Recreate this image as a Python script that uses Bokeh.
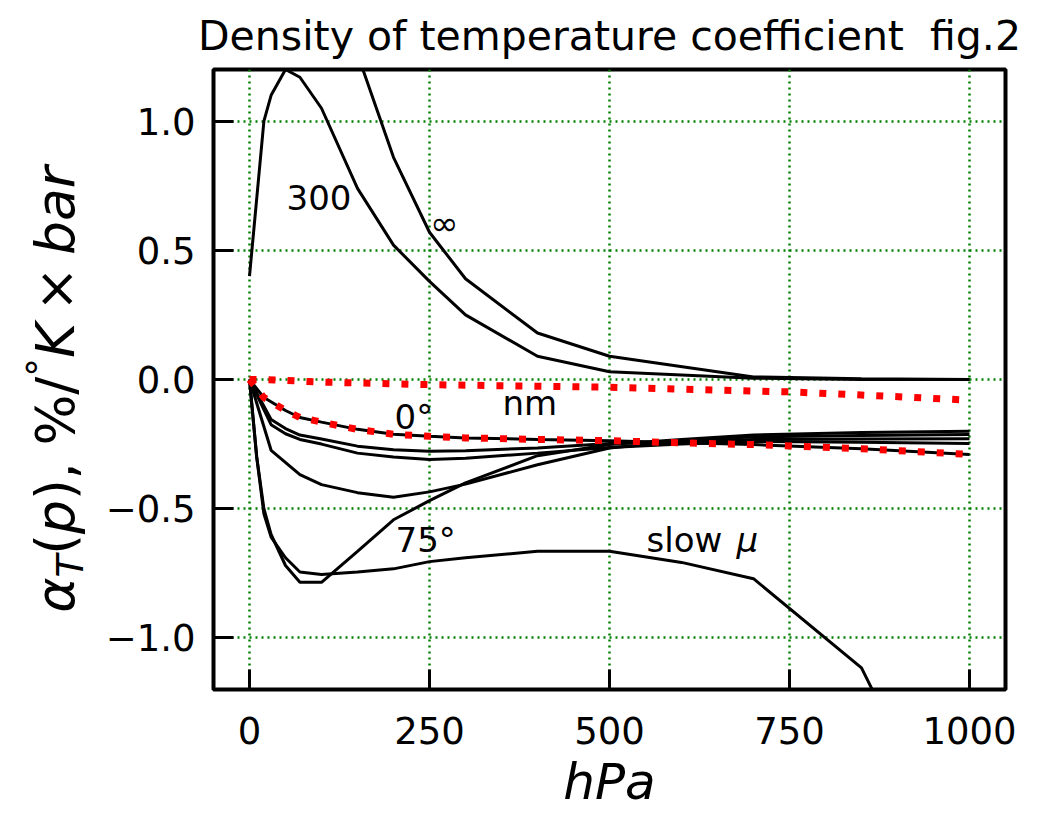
import math
from bokeh.plotting import figure
from bokeh.layouts import row
from bokeh.models import Range1d, Label, FixedTicker
from bokeh.embed import file_html
from bokeh.resources import INLINE

# ---------------- data ----------------
x_300 = [0, 20, 30, 50, 70, 100, 150, 200, 250, 300, 400, 500, 700, 850, 1000]
y_300 = [0.40, 1.00, 1.10, 1.20, 1.17, 1.05, 0.74, 0.52, 0.38, 0.25, 0.09, 0.03, 0.005, 0.0, 0.0]

x_inf = [100, 150, 200, 250, 300, 400, 500, 700, 850, 1000]
y_inf = [1.70, 1.26, 0.86, 0.57, 0.39, 0.18, 0.09, 0.01, 0.003, 0.0]

x_nm = [0, 20, 100, 250, 500, 750, 850, 1000]
y_nm = [0.0, 0.0, -0.01, -0.02, -0.03, -0.048, -0.06, -0.08]

x_0 = [0, 20, 50, 70, 100, 150, 200, 250, 300, 400, 500, 600, 700, 850, 1000]
y_0 = [0.0, -0.07, -0.12, -0.147, -0.165, -0.193, -0.212, -0.22, -0.226, -0.232, -0.237, -0.245, -0.252, -0.268, -0.29]

x_a = [0, 30, 50, 70, 100, 150, 200, 250, 300, 400, 500, 600, 700, 850, 1000]
y_a = [0.0, -0.155, -0.19, -0.215, -0.23, -0.258, -0.272, -0.278, -0.276, -0.265, -0.248, -0.24, -0.232, -0.23, -0.229]

x_b = [0, 30, 50, 70, 100, 150, 200, 250, 300, 400, 500, 600, 700, 850, 1000]
y_b = [0.0, -0.175, -0.21, -0.232, -0.25, -0.285, -0.30, -0.31, -0.305, -0.285, -0.263, -0.25, -0.24, -0.243, -0.248]

x_c = [0, 30, 70, 100, 150, 200, 250, 300, 400, 500, 600, 700, 850, 1000]
y_c = [0.0, -0.274, -0.368, -0.407, -0.438, -0.456, -0.435, -0.405, -0.33, -0.265, -0.238, -0.222, -0.217, -0.213]

x_75 = [0, 10, 20, 30, 50, 70, 100, 150, 200, 250, 300, 400, 500, 600, 700, 850, 1000]
y_75 = [0.0, -0.30, -0.50, -0.60, -0.72, -0.785, -0.785, -0.665, -0.543, -0.469, -0.40, -0.295, -0.252, -0.232, -0.215, -0.205, -0.20]

x_mu = [0, 10, 20, 30, 50, 70, 100, 150, 200, 250, 300, 400, 500, 600, 700, 850, 925, 1000]
y_mu = [0.0, -0.30, -0.52, -0.61, -0.69, -0.745, -0.755, -0.745, -0.733, -0.705, -0.69, -0.665, -0.665, -0.708, -0.771, -1.116, -1.54, -1.9]

x_ticks = [0, 250, 500, 750, 1000]
y_ticks = [-1.0, -0.5, 0.0, 0.5, 1.0]
y_tick_labels = {-1: "\u22121.0", -0.5: "\u22120.5", 0: "0.0", 0.5: "0.5", 1: "1.0"}

title_text = "Density of temperature coefficient \u00a0fig.2"
x_label = "hPa"
curve_labels = ["300", "\u221e", "0\u00b0", "nm", "75\u00b0", "slow "]

# ---------------- layout ----------------
FONT = "DejaVu Sans"
TOTAL_W, H = 1030, 813
YW = 95                       # width of the strip holding the y-axis label
FLP, FTP, FW, FH = 213, 68, 792, 622   # frame position on the page
X0, X1, Y0, Y1 = -50, 1050, -1.2, 1.2
BOT = H - FTP - FH


def px_x(px):
    return X0 + (px - FLP) * (X1 - X0) / FW


def px_y(py):
    return Y1 - (py - FTP) * (Y1 - Y0) / FH


MW = TOTAL_W - YW
p = figure(width=MW, height=H, output_backend="svg", toolbar_location=None,
           x_range=Range1d(X0, X1), y_range=Range1d(Y0, Y1),
           min_border_left=FLP - YW, min_border_top=FTP,
           min_border_right=MW - (FLP - YW) - FW, min_border_bottom=BOT,
           title=title_text)
p.background_fill_color = "white"
p.border_fill_color = "white"
p.outline_line_color = "black"
p.outline_line_width = 4

p.title.align = "center"
p.title.text_font = FONT
p.title.text_font_size = "41px"
p.title.text_font_style = "normal"
p.title.text_color = "black"
p.title.standoff = 19

for ax in (p.xaxis, p.yaxis):
    ax.axis_line_color = None
    ax.major_tick_in = 20
    ax.major_tick_out = 0
    ax.major_tick_line_width = 3
    ax.major_tick_line_color = "black"
    ax.minor_tick_line_color = None
    ax.major_label_text_font = FONT
    ax.major_label_text_font_size = "37px"
    ax.major_label_text_color = "black"
    ax.major_label_standoff = 18

p.xaxis.major_label_standoff = 27
p.xaxis.ticker = FixedTicker(ticks=x_ticks)
p.yaxis.ticker = FixedTicker(ticks=y_ticks)
p.yaxis.major_label_overrides = y_tick_labels
p.xaxis.axis_label = x_label
p.xaxis.axis_label_text_font = FONT
p.xaxis.axis_label_text_font_size = "50px"
p.xaxis.axis_label_text_font_style = "italic"
p.xaxis.axis_label_text_color = "black"
p.xaxis.axis_label_standoff = 6

for g in (p.xgrid, p.ygrid):
    g.grid_line_color = "green"
    g.grid_line_dash = "2 4"
    g.grid_line_width = 2.5
p.xgrid.ticker = FixedTicker(ticks=x_ticks)
p.ygrid.ticker = FixedTicker(ticks=y_ticks)

LW = 3
for xs, ys in [(x_300, y_300), (x_inf, y_inf), (x_0, y_0), (x_a, y_a), (x_b, y_b),
               (x_c, y_c), (x_75, y_75), (x_mu, y_mu)]:
    p.line(xs, ys, line_color="black", line_width=LW)

p.line(x_nm, y_nm, line_color="red", line_width=7, line_dash="7 12")
p.line(x_0, y_0, line_color="red", line_width=7, line_dash="7 12")

BASE_FIX = 12  # alphabetic baseline correction (px)


def lab(text, px, py, size="34px", style="normal", align="left", baseline="alphabetic"):
    if baseline == "alphabetic":
        py = py - BASE_FIX
    p.add_layout(Label(x=px_x(px), y=px_y(py), text=text, text_font=FONT,
                       text_font_size=size, text_font_style=style, text_color="black",
                       text_align=align, text_baseline=baseline))


lab(curve_labels[0], 286, 208)
lab(curve_labels[1], 444, 222, align="center", baseline="middle")
lab(curve_labels[2], 394, 429)
lab(curve_labels[3], 502, 415)
lab(curve_labels[4], 395, 552)
lab(curve_labels[5], 646, 552)
lab("\u03bc", 736, 552, style="italic")

# ---------------- y-axis label strip (frame aligned with the main frame) ----------------
q = figure(width=YW, height=H, output_backend="svg", toolbar_location=None,
           x_range=Range1d(0, YW), y_range=Range1d(0, FH),
           x_axis_location=None, y_axis_location=None,
           min_border_left=0, min_border_right=0, min_border_top=FTP, min_border_bottom=BOT)
q.outline_line_color = None
q.xgrid.visible = False
q.ygrid.visible = False
q.background_fill_color = "white"
q.border_fill_color = "white"

FS = 53.5
SUB = 0.7 * FS
MID = 0.30      # middle of the text box above the baseline (em)
pieces = [  # text, size, style, advance(em), baseline shift (em of FS, +down)
    ("\u03b1", FS, "italic", 0.66, 0.0),
    ("T", SUB, "italic", 0.611, 0.18),
    ("(", FS, "normal", 0.390, 0.0),
    ("p", FS, "italic", 0.635, 0.0),
    (")", FS, "normal", 0.390, 0.0),
    (",", FS, "normal", 0.318, 0.0),
    (" ", FS, "normal", 0.318, 0.0),
    ("%", FS, "normal", 0.950, 0.0),
    ("/", FS, "normal", 0.337, 0.0),
    ("\u00b0", SUB, "normal", 0.5, -0.38),
    ("K", FS, "italic", 0.656, 0.0),
    ("\u00d7", FS, "normal", 0.838 + 0.44, 0.0),
    ("bar", FS, "italic", 0.635 + 0.613 + 0.411, 0.0),
]
ybase = 613.0   # page y of the start (bottom) of the label
xbase = 71.0    # page x of the baseline
pos = 0.0
for t, sz, st, adv, shift in pieces:
    lead = 0.22 * FS if t == "\u00d7" else 0.0
    w = adv * sz - (0.44 * FS if t == "\u00d7" else 0.0)
    if t.strip():
        cx = xbase + shift * FS - MID * sz
        cy = ybase - pos - lead - w / 2.0
        q.add_layout(Label(x=cx, y=FTP + FH - cy, text=t,
                           text_font=FONT, text_font_size=f"{sz:.1f}px", text_font_style=st,
                           text_color="black", text_align="center", text_baseline="middle",
                           angle=math.pi / 2))
    pos += adv * sz

layout = row(q, p, spacing=0)
open("out.html", "w").write(file_html(layout, INLINE))
